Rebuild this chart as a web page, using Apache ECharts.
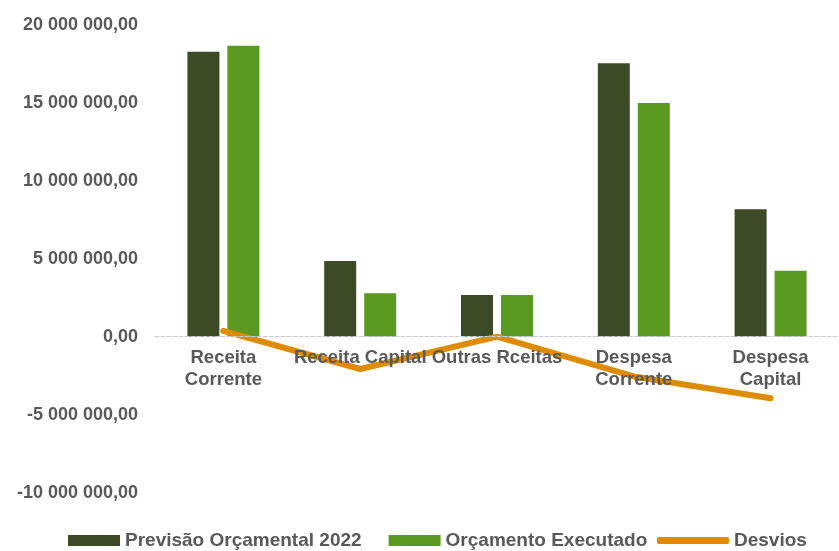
<!DOCTYPE html>
<html>
<head>
<meta charset="utf-8">
<script src="https://cdn.jsdelivr.net/npm/echarts@6/dist/echarts.min.js"></script>
<style>
html,body{margin:0;padding:0;background:#fff;}
#c{width:839px;height:551px;}
</style>
</head>
<body>
<div id="c"></div>
<script>
var categories = ['Receita\nCorrente', 'Receita Capital', 'Outras Rceitas', 'Despesa\nCorrente', 'Despesa\nCapital'];
var previsao = [18270000, 4850000, 2670000, 17530000, 8170000];
var executado = [18650000, 2780000, 2670000, 14980000, 4230000];
var desvios = [380000, -2070000, 0, -2550000, -3940000];
var seriesNames = ['Previsão Orçamental 2022', 'Orçamento Executado', 'Desvios'];

function fmt(v) {
  var neg = v < 0;
  var s = Math.abs(v).toFixed(2).split('.');
  var intPart = s[0].replace(/\B(?=(\d{3})+(?!\d))/g, ' ');
  return (neg ? '-' : '') + intPart + ',' + s[1];
}

var chart = echarts.init(document.getElementById('c'), null, {renderer: 'canvas'});
var font = 'Liberation Sans, Arial, sans-serif';
chart.setOption({
  backgroundColor: '#ffffff',
  animation: false,
  textStyle: {fontFamily: font},
  grid: {left: 155, right: -5, top: 24.7, bottom: 58.3, containLabel: false},
  legend: [{
    data: [seriesNames[0], seriesNames[1]],
    left: 68, top: 531, padding: 0,
    itemWidth: 52, itemHeight: 11, itemGap: 27,
    icon: 'rect',
    textStyle: {fontSize: 19, fontWeight: 'bold', color: '#595959', fontFamily: font}
  }, {
    data: [{name: seriesNames[2], icon: 'roundRect'}],
    left: 657, top: 531, padding: 0,
    itemWidth: 72, itemHeight: 7,
    textStyle: {fontSize: 19, fontWeight: 'bold', color: '#595959', fontFamily: font}
  }],
  xAxis: {
    type: 'category',
    data: categories,
    z: 5,
    offset: -156,
    axisLine: {show: true, onZero: false, lineStyle: {color: '#c9cbd9', type: 'dashed', width: 1}},
    axisTick: {show: false},
    axisLabel: {interval: 0, margin: 10, fontSize: 18.5, fontWeight: 'bold', color: '#595959', lineHeight: 22, fontFamily: font}
  },
  yAxis: {
    type: 'value',
    min: -10000000, max: 20000000, interval: 5000000,
    axisLine: {show: false},
    axisTick: {show: false},
    splitLine: {show: false},
    axisLabel: {margin: 17, fontSize: 18, fontWeight: 'bold', color: '#595959', fontFamily: font, formatter: fmt}
  },
  series: [{
    name: seriesNames[0], type: 'bar', data: previsao,
    barWidth: 32, barGap: '25%',
    itemStyle: {color: '#3c4a26'}
  }, {
    name: seriesNames[1], type: 'bar', data: executado,
    barWidth: 32,
    itemStyle: {color: '#5b9a20'}
  }, {
    name: seriesNames[2], type: 'line', data: desvios,
    showSymbol: false, symbol: 'none',
    z: 3,
    lineStyle: {color: '#de8b00', width: 6, cap: 'round', join: 'round'},
    itemStyle: {color: '#de8b00'}
  }]
});
</script>
</body>
</html>
